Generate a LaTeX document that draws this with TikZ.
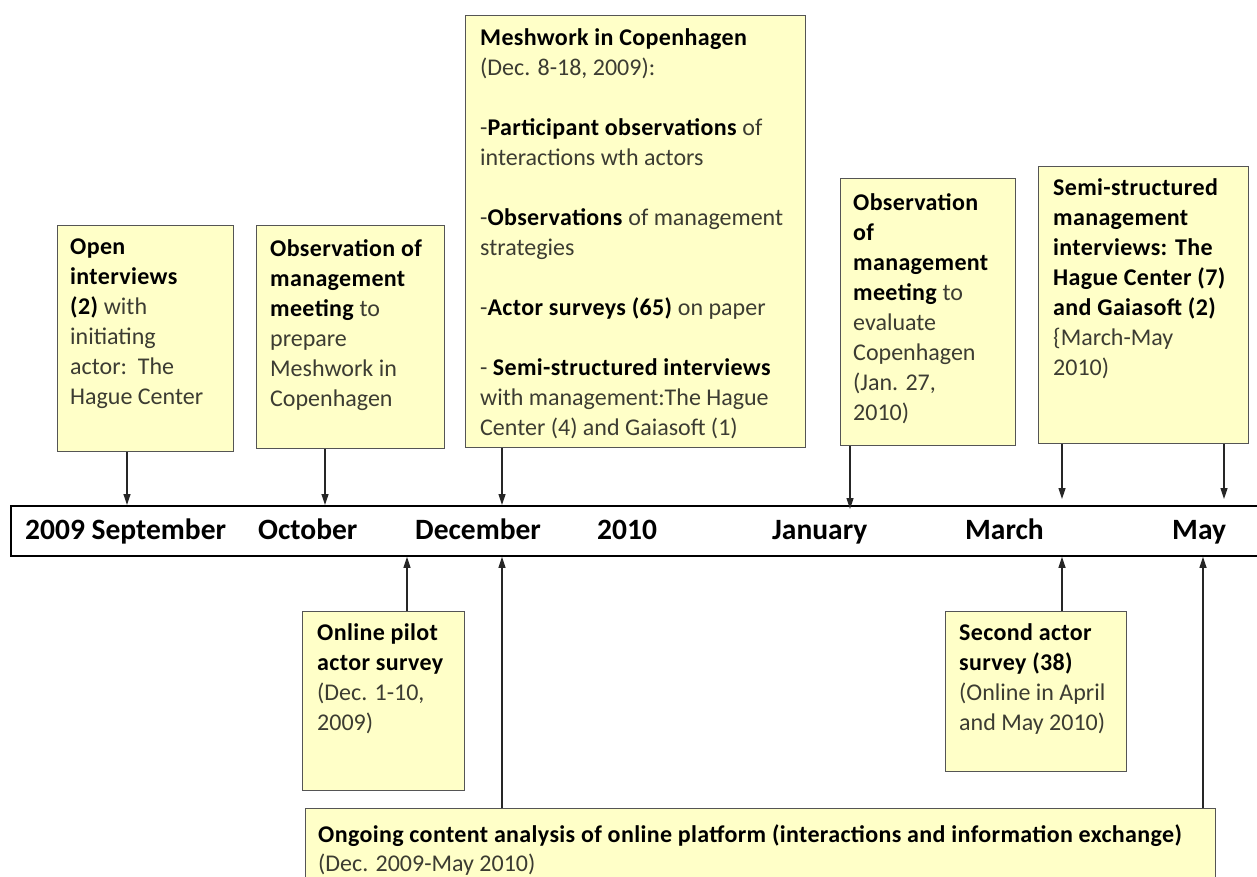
\documentclass[tikz,border=0pt]{standalone}
\usepackage{fontspec}
\setmainfont{Carlito}
\usetikzlibrary{arrows.meta}
\definecolor{cardfill}{RGB}{255,255,200}
\definecolor{cardline}{RGB}{85,85,85}
\definecolor{plain}{RGB}{60,60,50}
\newcommand{\bd}[1]{\textcolor{black}{\textbf{\addfontfeature{LetterSpace=1.5}#1}}}
\tikzset{
  card/.style={draw=cardline, line width=1.4pt, fill=cardfill, rectangle, inner sep=0pt, anchor=north west},
  cardtext/.style={anchor=north west, inner sep=0pt, align=left, font=\fontsize{24}{30}\selectfont, text=plain},
  tick/.style={-{Triangle[length=11pt,width=7pt]}, line width=1.2pt, draw=black!85},
  month/.style={anchor=base west, inner sep=0pt, font=\fontsize{29.5}{30}\selectfont\bfseries},
}
\begin{document}
\begin{tikzpicture}[x=1pt,y=-1pt]
\useasboundingbox (0,0) rectangle (1257,877);
\clip (0,0) rectangle (1257,877);

% timeline bar
\node[draw=black, line width=1.8pt, fill=white, rectangle, inner sep=0pt, anchor=north west,
      minimum width=1262pt, minimum height=50pt] (tl) at (10,505) {};
\node[month] (m1) at (25,539) {2009 September};
\node[month] (m2) at (258,539) {October};
\node[month] (m3) at (415,539) {December};
\node[month] (m4) at (597,539) {2010};
\node[month] (m5) at (772,539) {January};
\node[month] (m6) at (965,539) {March};
\node[month] (m7) at (1172,539) {May};

% cards above the timeline
\node[card, minimum width=176pt, minimum height=226pt] (b1) at (57,225) {};
\node[cardtext] (b1t) at (70,239) {\bd{Open}\\\bd{interviews}\\\bd{(2)} with\\initiating\\actor:\ \ The\\Hague Center};

\node[card, minimum width=188pt, minimum height=223pt] (b2) at (256,225) {};
\node[cardtext] (b2t) at (270,239) {\bd{Observation of}\\\bd{management}\\\bd{meeting} to\\prepare\\Meshwork in\\Copenhagen};

\node[card, minimum width=340pt, minimum height=432pt] (b3) at (465,15) {};
\node[cardtext] (b3t) at (480,28) {\bd{Meshwork in Copenhagen}\\(Dec. 8-18, 2009):\\[30pt]
  -\bd{Participant observations} of\\interactions wth actors\\[30pt]
  -\bd{Observations} of management\\strategies\\[30pt]
  -\bd{Actor surveys (65)} on paper\\[30pt]
  - \bd{Semi-structured interviews}\\with management:The Hague\\Center (4) and Gaiasoft (1)};

\node[card, minimum width=175pt, minimum height=267pt] (b4) at (840,178) {};
\node[cardtext] (b4t) at (853,193) {\bd{Observation}\\\bd{of}\\\bd{management}\\\bd{meeting} to\\evaluate\\Copenhagen\\(Jan. 27,\\2010)};

\node[card, minimum width=210pt, minimum height=277pt] (b5) at (1038,166) {};
\node[cardtext] (b5t) at (1053,178) {\bd{Semi-structured}\\\bd{management}\\\bd{interviews: The}\\\bd{Hague Center (7)}\\\bd{and Gaiasoft (2)}\\\{March-May\\2010)};

% cards below the timeline
\node[card, minimum width=162pt, minimum height=179pt] (p1) at (302,611) {};
\node[cardtext] (p1t) at (317,623) {\bd{Online pilot}\\\bd{actor survey}\\(Dec. 1-10,\\2009)};

\node[card, minimum width=181pt, minimum height=160pt] (s2) at (945,611) {};
\node[cardtext] (s2t) at (959,623) {\bd{Second actor}\\\bd{survey (38)}\\(Online in April\\and May 2010)};

\node[card, minimum width=910pt, minimum height=95pt] (og) at (305,808) {};
\node[cardtext, font=\fontsize{24}{29}\selectfont] (ogt) at (318,824) {\bd{Ongoing content analysis of online platform (interactions and information exchange)}\\(Dec. 2009-May 2010)};

% connectors down to the timeline
\draw[tick] (127,0 |- b1.south) -- (127,0 |- tl.north);
\draw[tick] (325,0 |- b2.south) -- (325,0 |- tl.north);
\draw[tick] (502,0 |- b3.south) -- (502,0 |- tl.north);
\draw[tick] (850,0 |- b4.south) -- ([yshift=-4pt]850,0 |- tl.north);
\draw[tick] (1062,0 |- b5.south) -- ([yshift=6pt]1062,0 |- tl.north);
\draw[tick] (1224,0 |- b5.south) -- ([yshift=6pt]1224,0 |- tl.north);

% connectors up to the timeline
\draw[tick] (407,0 |- p1.north) -- (407,0 |- tl.south);
\draw[tick] (502,0 |- og.north) -- (502,0 |- tl.south);
\draw[tick] (1062,0 |- s2.north) -- (1062,0 |- tl.south);
\draw[tick] (1203,0 |- og.north) -- (1203,0 |- tl.south);
\end{tikzpicture}
\end{document}
